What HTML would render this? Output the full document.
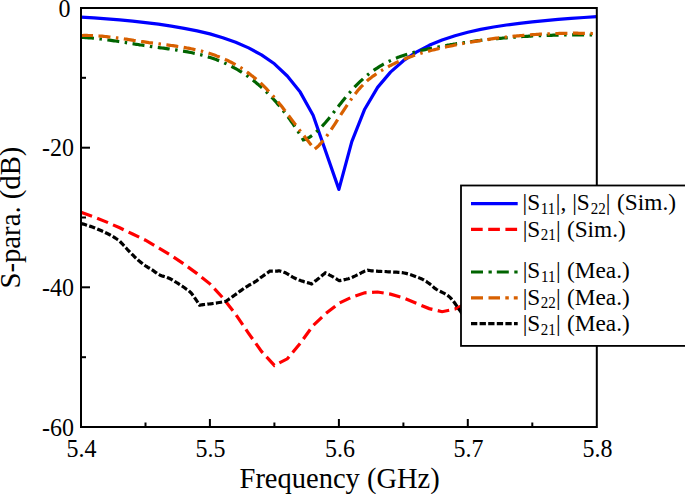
<!DOCTYPE html>
<html><head><meta charset="utf-8"><style>
html,body{margin:0;padding:0;background:#fff;overflow:hidden;width:685px;height:494px;}
svg{display:block;}
text{font-family:"Liberation Serif",serif;fill:#000;}
</style></head><body>
<svg width="685" height="494" viewBox="0 0 685 494">
<rect width="685" height="494" fill="#fff"/>
<g fill="none">

<path d="M81.0,17.1 L93.9,17.9 L106.8,18.8 L119.7,19.9 L132.6,21.1 L145.5,22.6 L158.4,24.2 L171.3,26.2 L184.2,28.4 L197.1,30.9 L209.9,33.9 L222.8,37.7 L235.7,42.3 L248.6,47.9 L261.5,54.9 L274.4,63.8 L287.3,76.0 L300.2,92.1 L313.1,115.2 L338.9,189.4 L351.8,141.6 L364.7,109.2 L377.6,87.4 L390.5,72.1 L403.4,60.7 L416.3,52.1 L429.2,45.3 L442.1,40.0 L455.0,35.7 L467.8,32.3 L480.7,29.4 L493.6,27.0 L506.5,25.0 L519.4,23.3 L532.3,21.9 L545.2,20.6 L558.1,19.4 L571.0,18.4 L583.9,17.5 L596.8,16.6" stroke="#0000ff" stroke-width="3.2" fill="none" stroke-linejoin="round"/>
<path d="M81.0,212.3 L93.9,216.9 L106.8,222.1 L119.7,227.8 L132.6,234.0 L145.5,240.2 L158.4,247.9 L171.3,255.6 L184.2,264.2 L197.1,273.6 L209.9,283.8 L222.8,297.8 L235.7,314.4 L248.6,333.3 L261.5,351.4 L274.4,365.4 L287.3,358.8 L300.2,343.3 L313.1,325.6 L326.0,313.4 L338.9,303.3 L351.8,297.1 L364.7,292.8 L377.6,292.0 L390.5,294.1 L403.4,297.9 L416.3,303.3 L429.2,308.6 L442.1,311.7 L455.0,309.0 L467.8,303.0 L480.7,296.0" stroke="#ff0000" stroke-width="3.2" fill="none" stroke-dasharray="11.7 5.5"/>
<path d="M81.0,37.3 L82.5,37.4 L84.0,37.5 L85.5,37.6 L87.0,37.7 L88.5,37.8 L90.0,37.9 L91.5,38.0 L93.0,38.2 L94.5,38.3 L96.0,38.5 L97.5,38.7 L99.0,38.8 L100.5,39.0 L102.0,39.2 L103.5,39.4 L105.0,39.6 L106.5,39.8 L108.0,40.0 L109.5,40.2 L111.0,40.4 L112.5,40.6 L114.0,40.8 L115.5,41.0 L117.0,41.2 L118.6,41.5 L120.1,41.7 L121.6,41.9 L123.1,42.2 L124.6,42.4 L126.1,42.6 L127.6,42.9 L129.1,43.1 L130.6,43.4 L132.1,43.6 L133.6,43.8 L135.1,44.1 L136.6,44.3 L138.1,44.5 L139.6,44.8 L141.1,45.0 L142.6,45.2 L144.1,45.5 L145.6,45.7 L147.1,45.9 L148.6,46.1 L150.1,46.4 L151.6,46.6 L153.1,46.8 L154.6,47.0 L156.1,47.2 L157.6,47.4 L159.1,47.6 L160.6,47.8 L162.1,48.0 L163.6,48.2 L165.1,48.4 L166.6,48.6 L168.1,48.8 L169.6,49.0 L171.1,49.3 L172.6,49.5 L174.1,49.7 L175.6,49.9 L177.1,50.1 L178.6,50.4 L180.1,50.6 L181.6,50.9 L183.1,51.1 L184.6,51.4 L186.1,51.7 L187.6,51.9 L189.1,52.2 L190.6,52.5 L192.2,52.8 L193.7,53.2 L195.2,53.5 L196.7,53.8 L198.2,54.2 L199.7,54.6 L201.2,54.9 L202.7,55.3 L204.2,55.7 L205.7,56.2 L207.2,56.6 L208.7,57.1 L210.2,57.5 L211.7,58.0 L213.2,58.5 L214.7,59.1 L216.2,59.6 L217.7,60.2 L219.2,60.8 L220.7,61.4 L222.2,62.0 L223.7,62.6 L225.2,63.3 L226.7,64.0 L228.2,64.7 L229.7,65.4 L231.2,66.2 L232.7,67.0 L234.2,67.8 L235.7,68.6 L237.2,69.5 L238.7,70.4 L240.2,71.3 L241.7,72.2 L243.2,73.2 L244.7,74.2 L246.2,75.2 L247.7,76.2 L249.2,77.3 L250.7,78.4 L252.2,79.6 L253.7,80.7 L255.2,81.9 L256.7,83.2 L258.2,84.4 L259.7,85.7 L261.2,87.1 L262.7,88.4 L264.2,89.8 L265.7,91.3 L267.3,92.7 L268.8,94.2 L270.3,95.8 L271.8,97.4 L273.3,99.0 L274.8,100.6 L276.3,102.3 L277.8,104.1 L279.3,105.8 L280.8,107.6 L282.3,109.5 L283.8,111.4 L285.3,113.3 L286.8,115.3 L288.3,117.3 L289.8,119.4 L291.3,121.5 L292.8,123.6 L294.3,125.8 L295.8,128.0 L297.3,130.3 L298.8,132.7 L300.3,135.0 L301.8,137.4 L303.3,139.9 L304.8,139.5 L306.3,138.9 L307.8,138.1 L309.3,137.3 L310.8,136.3 L312.3,135.3 L313.8,134.1 L315.3,132.9 L316.8,131.5 L318.4,130.1 L319.9,128.6 L321.4,127.0 L322.9,125.4 L324.4,123.7 L325.9,122.0 L327.4,120.2 L328.9,118.4 L330.4,116.6 L331.9,114.7 L333.4,112.8 L334.9,110.9 L336.4,109.0 L337.9,107.1 L339.4,105.1 L340.9,103.2 L342.4,101.3 L343.9,99.4 L345.4,97.6 L346.9,95.7 L348.5,93.9 L350.0,92.2 L351.5,90.5 L353.0,88.8 L354.5,87.2 L356.0,85.6 L357.5,84.1 L359.0,82.6 L360.5,81.2 L362.0,79.8 L363.5,78.4 L365.0,77.1 L366.5,75.9 L368.0,74.6 L369.5,73.4 L371.0,72.3 L372.5,71.2 L374.0,70.1 L375.5,69.1 L377.1,68.1 L378.6,67.1 L380.1,66.2 L381.6,65.3 L383.1,64.4 L384.6,63.6 L386.1,62.8 L387.6,62.0 L389.1,61.3 L390.6,60.6 L392.1,59.9 L393.6,59.2 L395.1,58.5 L396.6,57.9 L398.1,57.3 L399.6,56.8 L401.1,56.2 L402.6,55.7 L404.1,55.2 L405.6,54.7 L407.2,54.2 L408.7,53.7 L410.2,53.3 L411.7,52.9 L413.2,52.5 L414.7,52.1 L416.2,51.7 L417.7,51.3 L419.2,50.9 L420.7,50.6 L422.2,50.2 L423.7,49.9 L425.2,49.6 L426.7,49.3 L428.2,48.9 L429.7,48.6 L431.2,48.3 L432.7,48.0 L434.2,47.7 L435.8,47.4 L437.3,47.1 L438.8,46.9 L440.3,46.6 L441.8,46.3 L443.3,46.0 L444.8,45.8 L446.3,45.5 L447.8,45.2 L449.3,45.0 L450.8,44.7 L452.3,44.5 L453.8,44.2 L455.3,44.0 L456.8,43.7 L458.3,43.5 L459.8,43.3 L461.3,43.0 L462.8,42.8 L464.3,42.6 L465.9,42.4 L467.4,42.2 L468.9,41.9 L470.4,41.7 L471.9,41.5 L473.4,41.3 L474.9,41.1 L476.4,40.9 L477.9,40.7 L479.4,40.6 L480.9,40.4 L482.4,40.2 L483.9,40.0 L485.4,39.8 L486.9,39.7 L488.4,39.5 L489.9,39.3 L491.4,39.2 L492.9,39.0 L494.5,38.9 L496.0,38.7 L497.5,38.6 L499.0,38.4 L500.5,38.3 L502.0,38.2 L503.5,38.0 L505.0,37.9 L506.5,37.8 L508.0,37.6 L509.5,37.5 L511.0,37.4 L512.5,37.3 L514.0,37.2 L515.5,37.1 L517.0,36.9 L518.5,36.8 L520.0,36.7 L521.5,36.6 L523.0,36.5 L524.6,36.5 L526.1,36.4 L527.6,36.3 L529.1,36.2 L530.6,36.1 L532.1,36.0 L533.6,36.0 L535.1,35.9 L536.6,35.8 L538.1,35.8 L539.6,35.7 L541.1,35.6 L542.6,35.6 L544.1,35.5 L545.6,35.5 L547.1,35.4 L548.6,35.4 L550.1,35.3 L551.6,35.3 L553.2,35.2 L554.7,35.2 L556.2,35.2 L557.7,35.1 L559.2,35.1 L560.7,35.1 L562.2,35.0 L563.7,35.0 L565.2,35.0 L566.7,35.0 L568.2,35.0 L569.7,34.9 L571.2,34.9 L572.7,34.9 L574.2,34.9 L575.7,34.9 L577.2,34.9 L578.7,34.9 L580.2,34.9 L581.7,34.9 L583.3,34.9 L584.8,34.9 L586.3,35.0 L587.8,35.0 L589.3,35.0 L590.8,35.0 L592.3,35.0 L593.8,35.0 L595.3,35.1 L596.8,35.1" stroke="#006400" stroke-width="3.2" fill="none" stroke-dasharray="12 5.5 2.5 5.5" stroke-dashoffset="-1"/>
<path d="M81.0,35.5 L82.5,35.5 L84.0,35.4 L85.5,35.4 L87.0,35.4 L88.5,35.5 L90.0,35.5 L91.5,35.5 L93.1,35.6 L94.6,35.7 L96.1,35.8 L97.6,35.9 L99.1,36.0 L100.6,36.1 L102.1,36.2 L103.6,36.3 L105.1,36.5 L106.6,36.6 L108.1,36.8 L109.6,37.0 L111.1,37.2 L112.6,37.3 L114.1,37.5 L115.6,37.7 L117.2,37.9 L118.7,38.1 L120.2,38.3 L121.7,38.6 L123.2,38.8 L124.7,39.0 L126.2,39.2 L127.7,39.4 L129.2,39.7 L130.7,39.9 L132.2,40.1 L133.7,40.4 L135.2,40.6 L136.7,40.8 L138.2,41.0 L139.8,41.3 L141.3,41.5 L142.8,41.7 L144.3,41.9 L145.8,42.1 L147.3,42.3 L148.8,42.6 L150.3,42.8 L151.8,42.9 L153.3,43.1 L154.8,43.3 L156.3,43.5 L157.8,43.7 L159.3,43.9 L160.8,44.1 L162.3,44.3 L163.9,44.5 L165.4,44.7 L166.9,44.9 L168.4,45.1 L169.9,45.3 L171.4,45.5 L172.9,45.7 L174.4,45.9 L175.9,46.1 L177.4,46.4 L178.9,46.6 L180.4,46.8 L181.9,47.1 L183.4,47.3 L184.9,47.6 L186.5,47.9 L188.0,48.1 L189.5,48.4 L191.0,48.7 L192.5,49.0 L194.0,49.4 L195.5,49.7 L197.0,50.0 L198.5,50.4 L200.0,50.8 L201.5,51.1 L203.0,51.5 L204.5,52.0 L206.0,52.4 L207.5,52.8 L209.0,53.3 L210.6,53.8 L212.1,54.3 L213.6,54.8 L215.1,55.3 L216.6,55.9 L218.1,56.4 L219.6,57.0 L221.1,57.6 L222.6,58.3 L224.1,58.9 L225.6,59.6 L227.1,60.3 L228.6,61.0 L230.1,61.8 L231.6,62.5 L233.2,63.3 L234.7,64.2 L236.2,65.0 L237.7,65.9 L239.2,66.8 L240.7,67.7 L242.2,68.7 L243.7,69.7 L245.2,70.7 L246.7,71.8 L248.2,72.9 L249.7,74.0 L251.2,75.2 L252.7,76.3 L254.2,77.6 L255.7,78.8 L257.3,80.1 L258.8,81.5 L260.3,82.8 L261.8,84.2 L263.3,85.7 L264.8,87.2 L266.3,88.7 L267.8,90.3 L269.3,91.9 L270.8,93.5 L272.3,95.2 L273.8,96.9 L275.3,98.7 L276.8,100.5 L278.3,102.3 L279.9,104.2 L281.4,106.1 L282.9,108.0 L284.4,110.0 L285.9,111.9 L287.4,113.9 L288.9,115.9 L290.4,117.9 L291.9,119.9 L293.4,121.9 L294.9,123.9 L296.4,125.9 L297.9,127.9 L299.4,129.9 L300.9,131.9 L302.4,133.9 L304.0,135.8 L305.5,137.8 L307.0,139.7 L308.5,141.6 L310.0,143.6 L311.5,145.5 L313.0,147.4 L314.5,149.3 L316.0,148.1 L317.5,146.8 L319.0,145.3 L320.5,143.7 L322.0,142.0 L323.5,140.2 L325.0,138.3 L326.5,136.3 L328.0,134.2 L329.5,132.1 L331.0,129.9 L332.5,127.6 L334.0,125.4 L335.5,123.1 L337.0,120.7 L338.5,118.4 L340.0,116.1 L341.5,113.7 L343.0,111.4 L344.5,109.1 L346.0,106.9 L347.5,104.6 L349.0,102.4 L350.5,100.3 L352.0,98.2 L353.5,96.1 L355.0,94.1 L356.5,92.2 L358.0,90.3 L359.5,88.6 L361.0,86.9 L362.6,85.3 L364.1,83.7 L365.6,82.3 L367.1,80.9 L368.6,79.6 L370.1,78.4 L371.6,77.3 L373.1,76.1 L374.6,75.1 L376.1,74.0 L377.6,73.0 L379.1,72.1 L380.6,71.1 L382.1,70.2 L383.6,69.3 L385.1,68.4 L386.6,67.6 L388.1,66.8 L389.6,65.9 L391.1,65.2 L392.6,64.4 L394.1,63.7 L395.6,62.9 L397.1,62.2 L398.6,61.5 L400.1,60.9 L401.6,60.2 L403.1,59.6 L404.6,59.0 L406.1,58.4 L407.6,57.8 L409.1,57.3 L410.6,56.7 L412.1,56.2 L413.6,55.6 L415.1,55.1 L416.6,54.6 L418.1,54.2 L419.6,53.7 L421.1,53.2 L422.6,52.8 L424.1,52.4 L425.6,51.9 L427.1,51.5 L428.6,51.1 L430.1,50.7 L431.6,50.3 L433.1,50.0 L434.6,49.6 L436.1,49.2 L437.6,48.9 L439.1,48.5 L440.6,48.2 L442.1,47.8 L443.6,47.5 L445.1,47.2 L446.6,46.8 L448.1,46.5 L449.6,46.2 L451.1,45.9 L452.6,45.6 L454.1,45.2 L455.6,44.9 L457.2,44.6 L458.7,44.3 L460.2,44.1 L461.7,43.8 L463.2,43.5 L464.7,43.2 L466.2,42.9 L467.7,42.7 L469.2,42.4 L470.7,42.1 L472.2,41.9 L473.7,41.6 L475.2,41.4 L476.7,41.1 L478.2,40.9 L479.7,40.6 L481.2,40.4 L482.7,40.2 L484.2,39.9 L485.7,39.7 L487.2,39.5 L488.7,39.3 L490.2,39.1 L491.7,38.8 L493.2,38.6 L494.7,38.4 L496.2,38.2 L497.7,38.1 L499.2,37.9 L500.7,37.7 L502.2,37.5 L503.7,37.3 L505.2,37.2 L506.7,37.0 L508.2,36.8 L509.7,36.7 L511.2,36.5 L512.7,36.3 L514.2,36.2 L515.7,36.1 L517.2,35.9 L518.7,35.8 L520.2,35.6 L521.7,35.5 L523.2,35.4 L524.7,35.3 L526.2,35.1 L527.7,35.0 L529.2,34.9 L530.7,34.8 L532.2,34.7 L533.7,34.6 L535.2,34.5 L536.7,34.4 L538.2,34.3 L539.7,34.2 L541.2,34.1 L542.7,34.1 L544.2,34.0 L545.7,33.9 L547.2,33.9 L548.7,33.8 L550.3,33.7 L551.8,33.7 L553.3,33.6 L554.8,33.6 L556.3,33.5 L557.8,33.5 L559.3,33.4 L560.8,33.4 L562.3,33.4 L563.8,33.3 L565.3,33.3 L566.8,33.3 L568.3,33.3 L569.8,33.3 L571.3,33.3 L572.8,33.2 L574.3,33.2 L575.8,33.2 L577.3,33.2 L578.8,33.3 L580.3,33.3 L581.8,33.3 L583.3,33.3 L584.8,33.3 L586.3,33.3 L587.8,33.4 L589.3,33.4 L590.8,33.4 L592.3,33.5 L593.8,33.5 L595.3,33.6 L596.8,33.6" stroke="#d86000" stroke-width="3.2" fill="none" stroke-dasharray="12 5.5 12 5.5 2.5 5.5"/>
<path d="M81.0,223.4 L82.0,223.7 L83.4,224.1 L84.9,224.6 L86.7,225.2 L88.6,225.8 L90.5,226.4 L92.4,227.0 L94.2,227.7 L96.0,228.4 L97.8,229.2 L99.7,230.0 L101.5,230.8 L103.4,231.6 L105.1,232.5 L106.8,233.3 L108.3,234.0 L109.7,234.7 L110.9,235.4 L112.1,236.0 L113.2,236.7 L114.2,237.3 L115.1,237.9 L116.0,238.5 L116.8,239.0 L117.5,239.5 L118.1,239.9 L118.6,240.3 L119.0,240.6 L119.5,241.0 L119.9,241.4 L120.5,242.0 L121.1,242.6 L121.8,243.4 L122.6,244.2 L123.5,245.2 L124.4,246.1 L125.3,247.2 L126.3,248.2 L127.2,249.3 L128.2,250.3 L129.2,251.3 L130.2,252.4 L131.3,253.5 L132.4,254.6 L133.5,255.7 L134.6,256.8 L135.6,257.8 L136.7,258.8 L137.8,259.7 L138.8,260.7 L139.9,261.5 L140.9,262.4 L142.0,263.2 L143.0,264.0 L144.0,264.8 L145.0,265.5 L145.9,266.1 L146.9,266.7 L147.8,267.3 L148.6,267.8 L149.5,268.2 L150.4,268.7 L151.2,269.3 L152.1,269.8 L153.0,270.4 L153.8,271.0 L154.6,271.7 L155.5,272.3 L156.3,272.9 L157.2,273.6 L158.2,274.1 L159.2,274.7 L160.3,275.2 L161.5,275.7 L162.8,276.1 L164.1,276.5 L165.4,276.9 L166.7,277.3 L167.9,277.8 L169.1,278.3 L170.2,278.8 L171.3,279.4 L172.4,280.0 L173.4,280.6 L174.5,281.2 L175.5,281.9 L176.5,282.5 L177.6,283.2 L178.7,283.9 L179.8,284.6 L180.9,285.3 L182.0,286.0 L183.1,286.8 L184.2,287.5 L185.2,288.2 L186.1,288.9 L186.9,289.5 L187.7,290.0 L188.4,290.5 L189.0,291.0 L189.6,291.5 L190.3,292.1 L191.0,292.9 L191.8,293.8 L192.7,295.0 L193.8,296.5 L194.9,298.1 L196.1,299.8 L197.2,301.5 L198.1,303.0 L199.0,304.3 L199.6,305.2 L199.9,305.1 L200.4,305.1 L200.8,305.0 L201.4,304.9 L202.1,304.8 L202.8,304.7 L203.6,304.6 L204.5,304.5 L205.5,304.4 L206.7,304.3 L207.9,304.1 L209.2,304.0 L210.6,303.8 L211.9,303.7 L213.3,303.5 L214.7,303.3 L216.1,303.1 L217.7,302.8 L219.4,302.5 L221.0,302.2 L222.5,301.9 L223.9,301.6 L225.1,301.4 L226.0,301.2 L226.6,300.8 L227.4,300.2 L228.3,299.6 L229.3,298.9 L230.5,298.1 L231.7,297.2 L232.9,296.4 L234.1,295.5 L235.4,294.6 L236.8,293.6 L238.2,292.5 L239.7,291.4 L241.2,290.4 L242.7,289.3 L244.1,288.3 L245.5,287.4 L246.8,286.6 L248.1,285.8 L249.4,285.0 L250.7,284.3 L251.9,283.7 L253.0,283.0 L254.2,282.4 L255.2,281.7 L256.2,281.1 L257.0,280.5 L257.8,279.9 L258.6,279.3 L259.3,278.7 L260.0,278.1 L260.8,277.5 L261.7,276.9 L262.7,276.2 L263.8,275.4 L265.0,274.6 L266.2,273.8 L267.3,273.0 L268.3,272.2 L269.2,271.6 L269.8,271.2 L270.3,271.2 L271.0,271.2 L271.9,271.2 L272.8,271.2 L273.8,271.2 L274.7,271.2 L275.6,271.2 L276.3,271.2 L276.9,271.2 L277.4,271.1 L277.8,271.0 L278.1,270.9 L278.5,270.9 L278.9,270.9 L279.4,270.9 L280.0,271.0 L280.7,271.2 L281.4,271.4 L282.3,271.6 L283.1,271.9 L284.0,272.3 L284.9,272.6 L285.8,273.0 L286.6,273.4 L287.4,273.8 L288.2,274.3 L289.0,274.8 L289.8,275.3 L290.6,275.9 L291.5,276.4 L292.3,276.9 L293.2,277.4 L294.1,277.8 L295.0,278.3 L296.0,278.7 L296.9,279.1 L297.9,279.5 L298.9,279.9 L300.0,280.3 L301.1,280.7 L302.4,281.1 L303.8,281.6 L305.3,282.0 L306.8,282.5 L308.3,282.9 L309.7,283.3 L310.8,283.7 L311.6,283.9 L312.1,283.5 L312.8,283.0 L313.6,282.4 L314.4,281.7 L315.4,280.9 L316.4,280.2 L317.3,279.4 L318.2,278.7 L319.1,278.0 L320.1,277.1 L321.2,276.3 L322.2,275.4 L323.2,274.6 L324.1,273.9 L324.8,273.3 L325.4,272.8 L326.0,273.1 L326.7,273.5 L327.6,274.0 L328.6,274.5 L329.6,275.1 L330.7,275.6 L331.7,276.2 L332.6,276.7 L333.5,277.2 L334.4,277.8 L335.4,278.4 L336.4,278.9 L337.2,279.5 L338.0,280.0 L338.7,280.4 L339.2,280.7 L339.9,280.6 L340.9,280.4 L342.0,280.2 L343.3,279.9 L344.6,279.6 L346.0,279.3 L347.2,279.0 L348.4,278.7 L349.4,278.4 L350.5,278.0 L351.5,277.6 L352.4,277.2 L353.4,276.7 L354.4,276.3 L355.3,275.9 L356.3,275.4 L357.3,274.9 L358.4,274.4 L359.5,273.8 L360.5,273.3 L361.6,272.7 L362.5,272.2 L363.4,271.8 L364.2,271.4 L364.9,271.1 L365.5,270.9 L366.0,270.7 L366.4,270.6 L366.8,270.5 L367.2,270.4 L367.5,270.4 L367.7,270.3 L368.2,270.4 L368.9,270.4 L369.7,270.5 L370.5,270.7 L371.5,270.8 L372.7,270.9 L373.9,271.0 L375.3,271.1 L376.9,271.2 L378.6,271.3 L380.5,271.4 L382.5,271.5 L384.6,271.5 L386.7,271.7 L388.7,271.8 L390.7,271.9 L392.6,272.0 L394.5,272.1 L396.4,272.2 L398.4,272.4 L400.3,272.5 L402.2,272.7 L404.1,273.0 L406.0,273.4 L408.0,273.9 L410.0,274.5 L412.1,275.2 L414.1,275.9 L416.1,276.7 L418.0,277.4 L419.8,278.1 L421.3,278.8 L422.6,279.4 L423.8,280.0 L424.7,280.5 L425.6,281.1 L426.5,281.6 L427.3,282.2 L428.1,282.8 L429.0,283.4 L429.9,284.1 L430.8,284.8 L431.7,285.5 L432.5,286.3 L433.4,287.1 L434.4,287.9 L435.4,288.7 L436.6,289.5 L437.9,290.3 L439.4,291.1 L441.0,291.8 L442.7,292.6 L444.3,293.4 L445.9,294.3 L447.5,295.3 L448.9,296.4 L450.2,297.6 L451.4,298.9 L452.6,300.3 L453.8,301.8 L454.9,303.3 L456.0,304.9 L457.0,306.4 L458.1,307.9 L459.2,309.5 L460.4,311.2 L461.5,312.9 L462.6,314.7 L463.7,316.3 L464.6,317.8 L465.4,319.1 L466.0,320.0" stroke="#000" stroke-width="3.2" fill="none" stroke-dasharray="6.3 2.3"/>

</g>
<g stroke="#000" stroke-width="2">
<line x1="145.5" y1="427.0" x2="145.5" y2="422.5"/>
<line x1="209.9" y1="427.0" x2="209.9" y2="419.0"/>
<line x1="274.4" y1="427.0" x2="274.4" y2="422.5"/>
<line x1="338.9" y1="427.0" x2="338.9" y2="419.0"/>
<line x1="403.4" y1="427.0" x2="403.4" y2="422.5"/>
<line x1="467.8" y1="427.0" x2="467.8" y2="419.0"/>
<line x1="532.3" y1="427.0" x2="532.3" y2="422.5"/>
<line x1="81.0" y1="77.8" x2="86.0" y2="77.8"/>
<line x1="81.0" y1="147.7" x2="90.0" y2="147.7"/>
<line x1="81.0" y1="217.5" x2="86.0" y2="217.5"/>
<line x1="81.0" y1="287.3" x2="90.0" y2="287.3"/>
<line x1="81.0" y1="357.2" x2="86.0" y2="357.2"/>
</g>
<rect x="81.0" y="8.0" width="515.8" height="419.0" fill="none" stroke="#000" stroke-width="2"/>
<g font-size="24">
<text transform="translate(81.60,456.60) scale(1,1.02)" font-size="24" text-anchor="middle" >5.4</text>
<text transform="translate(210.60,456.60) scale(1,1.02)" font-size="24" text-anchor="middle" >5.5</text>
<text transform="translate(339.90,456.60) scale(1,1.02)" font-size="24" text-anchor="middle" >5.6</text>
<text transform="translate(468.60,456.60) scale(1,1.02)" font-size="24" text-anchor="middle" >5.7</text>
<text transform="translate(597.40,456.60) scale(1,1.02)" font-size="24" text-anchor="middle" >5.8</text>
<text transform="translate(74.10,156.27) scale(1,1.02)" font-size="24" text-anchor="end" >-20</text>
<text transform="translate(74.10,295.93) scale(1,1.02)" font-size="24" text-anchor="end" >-40</text>
<text transform="translate(74.10,435.60) scale(1,1.02)" font-size="24" text-anchor="end" >-60</text>
<text transform="translate(70.50,16.60) scale(1,1.02)" font-size="24" text-anchor="end" >0</text>
</g>
<text transform="translate(339.60,487.70) scale(1,1.07)" font-size="28.5" text-anchor="middle" >Frequency (GHz)</text>
<text transform="translate(20.2,217.6) scale(1,1.008) rotate(-90)" font-size="28.5" text-anchor="middle">S-para. (dB)</text>
<rect x="461" y="185.5" width="260" height="160.4" fill="#fff" stroke="#000" stroke-width="1.8"/>
<line x1="471" y1="203.6" x2="517.7" y2="203.6" stroke="#0000ff" stroke-width="3.2" />
<text transform="translate(522.55,210.40) scale(1,1.0)" font-size="23.3" text-anchor="start" >|S</text>
<text transform="translate(540.78,214.00) scale(1,1.12)" font-size="15.0" text-anchor="start" >11</text>
<text transform="translate(555.85,210.40) scale(1,1.0)" font-size="23.3" text-anchor="start" >|, |S</text>
<text transform="translate(590.64,214.00) scale(1,1.12)" font-size="15.0" text-anchor="start" >22</text>
<text transform="translate(605.75,210.40) scale(1,1.0)" font-size="23.3" text-anchor="start" >|</text>
<text transform="translate(617.08,210.40) scale(1,1.0)" font-size="23.3" text-anchor="start" >(Sim.)</text>
<line x1="471" y1="229.3" x2="517.7" y2="229.3" stroke="#ff0000" stroke-width="3.2" stroke-dasharray="11.7 5.5"/>
<text transform="translate(522.65,236.70) scale(1,1.0)" font-size="23.3" text-anchor="start" >|S</text>
<text transform="translate(540.84,240.30) scale(1,1.12)" font-size="15.0" text-anchor="start" >21</text>
<text transform="translate(555.95,236.70) scale(1,1.0)" font-size="23.3" text-anchor="start" >|</text>
<text transform="translate(566.88,236.70) scale(1,1.0)" font-size="23.3" text-anchor="start" >(Sim.)</text>
<line x1="471" y1="272.0" x2="517.7" y2="272.0" stroke="#006400" stroke-width="3.2" stroke-dasharray="12 5.5 3.3 5"/>
<text transform="translate(522.65,278.40) scale(1,1.0)" font-size="23.3" text-anchor="start" >|S</text>
<text transform="translate(540.98,282.00) scale(1,1.12)" font-size="15.0" text-anchor="start" >11</text>
<text transform="translate(555.95,278.40) scale(1,1.0)" font-size="23.3" text-anchor="start" >|</text>
<text transform="translate(566.98,278.40) scale(1,1.0)" font-size="23.3" text-anchor="start" >(Mea.)</text>
<line x1="471" y1="297.8" x2="517.7" y2="297.8" stroke="#d86000" stroke-width="3.2" stroke-dasharray="12 5.5 11.5 5.3 3.5 5"/>
<text transform="translate(522.65,304.60) scale(1,1.0)" font-size="23.3" text-anchor="start" >|S</text>
<text transform="translate(540.84,308.20) scale(1,1.12)" font-size="15.0" text-anchor="start" >22</text>
<text transform="translate(555.95,304.60) scale(1,1.0)" font-size="23.3" text-anchor="start" >|</text>
<text transform="translate(566.98,304.60) scale(1,1.0)" font-size="23.3" text-anchor="start" >(Mea.)</text>
<line x1="471" y1="323.7" x2="517.7" y2="323.7" stroke="#000" stroke-width="3.2" stroke-dasharray="6.3 2.3"/>
<text transform="translate(522.65,330.90) scale(1,1.0)" font-size="23.3" text-anchor="start" >|S</text>
<text transform="translate(540.84,334.50) scale(1,1.12)" font-size="15.0" text-anchor="start" >21</text>
<text transform="translate(555.95,330.90) scale(1,1.0)" font-size="23.3" text-anchor="start" >|</text>
<text transform="translate(566.98,330.90) scale(1,1.0)" font-size="23.3" text-anchor="start" >(Mea.)</text>
</svg>
</body></html>
